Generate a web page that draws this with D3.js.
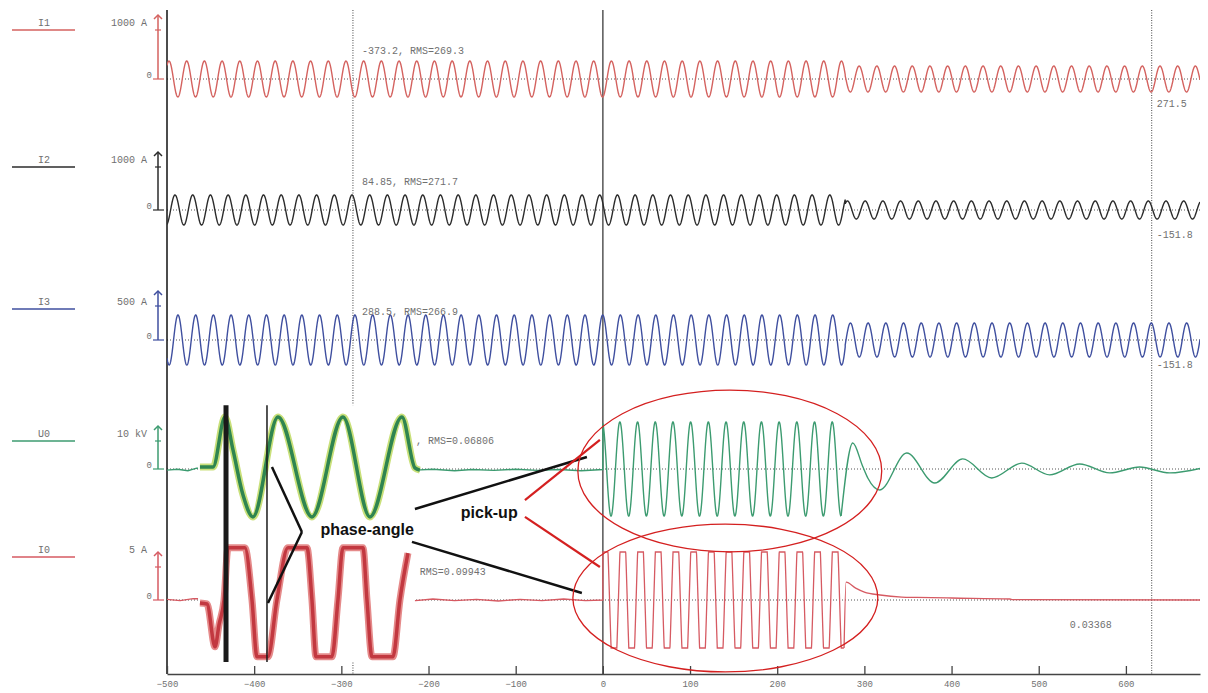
<!DOCTYPE html>
<html>
<head>
<meta charset="utf-8">
<script src="https://cdn.jsdelivr.net/npm/d3@7"></script>
<style>
body { margin: 0; background: #fff; }
svg { display: block; }
</style>
</head>
<body>
<div id="chart"></div>
<script>
// ---- values ----
const timeTicks = [-500, -400, -300, -200, -100, 0, 100, 200, 300, 400, 500, 600];
const channelNames = ["I1", "I2", "I3", "U0", "I0"];
const scaleValues = [1000, 1000, 500, 10, 5];
const scaleLabels = ["1000 A", "1000 A", "500 A", "10 kV", "5 A"];
const cursorTimes = [-286.7, 0, 629.6];
const periodMs = 20.3;

// [from ms, to ms, crest value]
const i1Segments = [[-500, 278, 367], [278, 685, 265]];
const i2Segments = [[-500, 278, 350], [278, 685, 210]];
const i3Segments = [[-500, 278, 368], [278, 685, 250]];
const crestTimes = [-497.7, -490.8, -487.4, 19.5, 22.9];

const u0Baseline = [[-500, -0.4], [-488, -0.1], [-476, -0.6], [-466, 0.3], [-215, -0.4], [-195, -0.1],
  [-170, -0.6], [-150, -0.2], [-125, -0.5], [-100, -0.1], [-75, -0.5], [-50, -0.2], [-25, -0.6], [0, -0.2]];
const u0Burst = [[0, 273.3, 16.8]];
const u0Decay = [[273.3, -16.8], [286.7, 9.3], [298, 1.0], [303.9, -3.2], [317.7, -7.5], [348.6, 5.7],
  [380.7, -5.0], [412.8, 3.6], [446.1, -3.2], [480.5, 2.1], [512.6, -2.1], [547, 1.8], [581.4, -1.4],
  [615.8, 0.7], [650.2, -1.4], [685, 0.2]];

const i0Baseline = [[-500, 0.1], [-485, -0.1], [-470, 0.2], [-215, -0.1], [-195, 0.15], [-170, -0.1],
  [-145, 0.1], [-120, -0.15], [-95, 0.1], [-70, -0.1], [-45, 0.15], [-20, -0.1], [0, 0]];
const i0Burst = [[0, 276.7, 14]];
const i0Clip = 7.27;
const i0Decay = [[276.7, -7.27], [279, 2.7], [290, 1.8], [300, 1.2], [318, 0.76], [343, 0.45],
  [360, 0.4], [400, 0.3], [467, 0.15], [470, 0.05], [685, 0]];

// zoomed inset pasted over the pre-fault part
const u0Inset = [[-462.2, 0.7], [-447.2, 0.7], [-433.5, 18.6], [-424.3, 6.8], [-412.8, -9.3], [-401.4, -17.1],
  [-372.7, 18.6], [-333.7, -17.1], [-298.2, 18.6], [-267.2, -17.1], [-230.5, 18.6], [-215.6, 0.4], [-209.9, -0.4]];
const i0Inset = [[-462.2, -0.45], [-454.1, -0.6], [-444.9, -7.1], [-440.4, -3.8], [-434.6, 0], [-430, 7.9],
  [-410.6, 7.9], [-402.5, 0], [-396.8, -8.6], [-384.2, -8.6], [-373.9, 0], [-361.2, 7.9], [-339.4, 7.9],
  [-333.7, 0], [-329.1, -8.6], [-310.8, -8.6], [-303.9, 0], [-298.2, 7.9], [-275.2, 7.9], [-270.6, 0],
  [-264.9, -8.6], [-240.8, -8.6], [-232.8, 0], [-223.6, 7.1]];
const insetMarkers = [-432.3, -385.3];

const leftTexts = ["-373.2, RMS=269.3", "84.85, RMS=271.7", "288.5, RMS=266.9", ", RMS=0.06806", "RMS=0.09943"];
const rightTexts = ["271.5", "-151.8", "-151.8", "", "0.03368"];

// ---- layout ----
const width = 1208, height = 693;
const zeroY = [79, 210, 340, 469, 600];
const tickY = [30, 167, 306, 441, 567];
const legendY = [30, 167, 309, 441, 557];
const colors = ["#d4625f", "#2b2b2b", "#3f4f9f", "#3c9b70", "#d65a62"];
const grey = "#707070";
const mono = "'Liberation Mono', 'DejaVu Sans Mono', monospace";

const svg = d3.select("#chart").append("svg")
    .attr("width", width)
    .attr("height", height);

const x = d3.scaleLinear().domain([-500, 685]).range([167, 1200]);
const ys = channelNames.map((n, i) => d3.scaleLinear().domain([0, scaleValues[i]]).range([zeroY[i], tickY[i]]));

svg.append("defs").append("clipPath").attr("id", "plot")
    .append("rect").attr("x", 167).attr("y", 0).attr("width", 1033).attr("height", height);

function sineTrace(segments, crestAt, clip) {
    const pts = [];
    segments.forEach(([t0, t1, amp]) => {
        for (let t = t0; t <= t1 + 1e-9; t += 0.25) {
            let v = amp * Math.cos(2 * Math.PI * (t - crestAt) / periodMs);
            if (clip) v = Math.max(-clip, Math.min(clip, v));
            pts.push([t, v]);
        }
    });
    return pts;
}

const traces = [
    sineTrace(i1Segments, crestTimes[0]),
    sineTrace(i2Segments, crestTimes[1]),
    sineTrace(i3Segments, crestTimes[2]),
    null,
    null
];

// zero lines
channelNames.forEach((n, i) => {
    svg.append("line")
        .attr("x1", x(-500)).attr("x2", x(685))
        .attr("y1", ys[i](0)).attr("y2", ys[i](0))
        .attr("stroke", "#555").attr("stroke-width", 1)
        .attr("stroke-dasharray", "1,2");
});

// cursors
cursorTimes.forEach((t, i) => {
    svg.append("line")
        .attr("x1", x(t)).attr("x2", x(t))
        .attr("y1", 10).attr("y2", 674)
        .attr("stroke", i === 1 ? "#555" : "#444")
        .attr("stroke-width", i === 1 ? 1.5 : 1)
        .attr("stroke-dasharray", i === 1 ? null : "1,1.5");
});
svg.append("line")
    .attr("x1", x(-500)).attr("x2", x(-500))
    .attr("y1", 10).attr("y2", 674)
    .attr("stroke", "#111").attr("stroke-width", 1.5);

const plot = svg.append("g").attr("clip-path", "url(#plot)");

// I1..I3
[0, 1, 2].forEach(i => {
    const line = d3.line().x(d => x(d[0])).y(d => ys[i](d[1]));
    plot.append("path")
        .attr("d", line(traces[i]))
        .attr("fill", "none")
        .attr("stroke", colors[i])
        .attr("stroke-width", 1.4);
});

// U0
const u0Line = d3.line().x(d => x(d[0])).y(d => ys[3](d[1]));
plot.append("path")
    .attr("d", u0Line(u0Baseline.concat(sineTrace(u0Burst, crestTimes[3]))))
    .attr("fill", "none").attr("stroke", colors[3]).attr("stroke-width", 1.4);
plot.append("path")
    .attr("d", u0Line.curve(d3.curveMonotoneX)(u0Decay))
    .attr("fill", "none").attr("stroke", colors[3]).attr("stroke-width", 1.4);

// I0
const i0Line = d3.line().x(d => x(d[0])).y(d => ys[4](d[1]));
plot.append("path")
    .attr("d", i0Line(i0Baseline.concat(sineTrace(i0Burst, crestTimes[4], i0Clip))))
    .attr("fill", "none").attr("stroke", colors[4]).attr("stroke-width", 1.3);
plot.append("path")
    .attr("d", i0Line.curve(d3.curveMonotoneX)(i0Decay))
    .attr("fill", "none").attr("stroke", colors[4]).attr("stroke-width", 1.3);

// legends, scale arrows
channelNames.forEach((n, i) => {
    const g = svg.append("g");
    g.append("line")
        .attr("x1", 12).attr("x2", 75)
        .attr("y1", legendY[i]).attr("y2", legendY[i])
        .attr("stroke", colors[i]).attr("stroke-width", 1.5);
    g.append("text")
        .attr("x", 44).attr("y", legendY[i] - 4)
        .attr("text-anchor", "middle")
        .attr("font-family", mono).attr("font-size", 10)
        .attr("fill", grey).text(n);
    g.append("text")
        .attr("x", 147).attr("y", legendY[i] - 4)
        .attr("text-anchor", "end")
        .attr("font-family", mono).attr("font-size", 10)
        .attr("fill", grey).text(scaleLabels[i]);
    const y0 = ys[i](0), y1 = ys[i](scaleValues[i]);
    g.append("line")
        .attr("x1", 158).attr("x2", 158)
        .attr("y1", y0).attr("y2", y1 - 15)
        .attr("stroke", colors[i]).attr("stroke-width", 1.5);
    g.append("path")
        .attr("d", `M154,${y1 - 11}L158,${y1 - 15}L162,${y1 - 11}`)
        .attr("fill", "none").attr("stroke", colors[i]).attr("stroke-width", 1.5);
    g.append("line")
        .attr("x1", 155).attr("x2", 161)
        .attr("y1", y1).attr("y2", y1)
        .attr("stroke", colors[i]).attr("stroke-width", 1.2);
    g.append("line")
        .attr("x1", 153).attr("x2", 164)
        .attr("y1", y0).attr("y2", y0)
        .attr("stroke", colors[i]).attr("stroke-width", 1.2);
    g.append("text")
        .attr("x", 152).attr("y", y0 - 1)
        .attr("text-anchor", "end")
        .attr("font-family", mono).attr("font-size", 9)
        .attr("fill", grey).text("0");
});

// value readouts
const leftAt = [-276.4, -276.4, -276.4, -214.5, -210];
leftTexts.forEach((s, i) => {
    svg.append("text")
        .attr("x", x(leftAt[i])).attr("y", ys[i](0) - 25)
        .attr("font-family", mono).attr("font-size", 10)
        .attr("fill", grey).text(s);
});
const rightAt = [635.5, 635.5, 635.5, 635.5, 535.6];
rightTexts.forEach((s, i) => {
    if (!s) return;
    svg.append("text")
        .attr("x", x(rightAt[i])).attr("y", ys[i](0) + 28)
        .attr("font-family", mono).attr("font-size", 10)
        .attr("fill", grey).text(s);
});

// axis
const axis = svg.append("g")
    .attr("transform", "translate(0,674)")
    .call(d3.axisBottom(x).tickValues(timeTicks).tickSize(-8).tickSizeOuter(0).tickPadding(7));
axis.select(".domain").attr("stroke", "#444").attr("stroke-width", 1.3);
axis.selectAll(".tick line").attr("stroke", "#444").attr("stroke-width", 1.3);
axis.selectAll(".tick text").attr("font-family", mono).attr("font-size", 9).attr("fill", grey);

// pasted zoom inset
const inset = svg.append("g");
inset.append("rect")
    .attr("x", x(-464.4)).attr("y", ys[3](22.8))
    .attr("width", x(-215.6) - x(-464.4))
    .attr("height", ys[4](-9.4) - ys[3](22.8))
    .attr("fill", "#fff");
const u0InsetLine = d3.line().x(d => x(d[0])).y(d => ys[3](d[1])).curve(d3.curveMonotoneX);
inset.append("path").attr("d", u0InsetLine(u0Inset))
    .attr("fill", "none").attr("stroke", "#c9e07a").attr("stroke-width", 7).attr("stroke-linejoin", "round");
inset.append("path").attr("d", u0InsetLine(u0Inset))
    .attr("fill", "none").attr("stroke", "#2f8550").attr("stroke-width", 3.5).attr("stroke-linejoin", "round");
const i0InsetLine = d3.line().x(d => x(d[0])).y(d => ys[4](d[1])).curve(d3.curveMonotoneX);
inset.append("path").attr("d", i0InsetLine(i0Inset))
    .attr("fill", "none").attr("stroke", "#e58a8a").attr("stroke-width", 7).attr("stroke-linejoin", "round");
inset.append("path").attr("d", i0InsetLine(i0Inset))
    .attr("fill", "none").attr("stroke", "#c23840").attr("stroke-width", 3.5).attr("stroke-linejoin", "round");
insetMarkers.forEach((t, i) => {
    inset.append("line")
        .attr("x1", x(t)).attr("x2", x(t))
        .attr("y1", ys[3](22.8)).attr("y2", ys[4](-9.4))
        .attr("stroke", "#1a1a1a").attr("stroke-width", i === 0 ? 5 : 1.5);
});

// annotations
const note = svg.append("g");
function seg(t1, c1, v1, t2, c2, v2, color, w) {
    note.append("line")
        .attr("x1", x(t1)).attr("y1", ys[c1](v1))
        .attr("x2", x(t2)).attr("y2", ys[c2](v2))
        .attr("stroke", color).attr("stroke-width", w);
}
seg(-379.6, 3, 0.7, -345.2, 3, -22.5, "#111", 2.5);
seg(-345.2, 3, -22.5, -384.2, 4, -0.45, "#111", 2.5);
seg(-215.6, 3, -14.3, -18.3, 3, 4.3, "#111", 2.5);
seg(-219, 4, 8.8, -24.1, 4, 1.06, "#111", 2.5);
seg(-89.4, 3, -11.1, -3.4, 3, 10.4, "#d42020", 2.2);
seg(-89.4, 4, 12.6, -3.4, 4, 5.0, "#d42020", 2.2);

note.append("text")
    .attr("x", x(-324)).attr("y", ys[3](-23.4))
    .attr("font-family", "'Liberation Sans', Arial, sans-serif")
    .attr("font-weight", "bold").attr("font-size", 16)
    .attr("fill", "#111").text("phase-angle");
note.append("text")
    .attr("x", x(-163)).attr("y", ys[3](-17.5))
    .attr("font-family", "'Liberation Sans', Arial, sans-serif")
    .attr("font-weight", "bold").attr("font-size", 16)
    .attr("fill", "#111").text("pick-up");

const ellipses = [[145.6, 3, -0.7, 174.3, 28.9], [140.5, 4, 0.3, 174.9, 11.2]];
ellipses.forEach(([t, c, v, rt, rv]) => {
    note.append("ellipse")
        .attr("cx", x(t)).attr("cy", ys[c](v))
        .attr("rx", x(t + rt) - x(t))
        .attr("ry", ys[c](0) - ys[c](rv))
        .attr("fill", "none").attr("stroke", "#d42020").attr("stroke-width", 1.3);
});
</script>
</body>
</html>
